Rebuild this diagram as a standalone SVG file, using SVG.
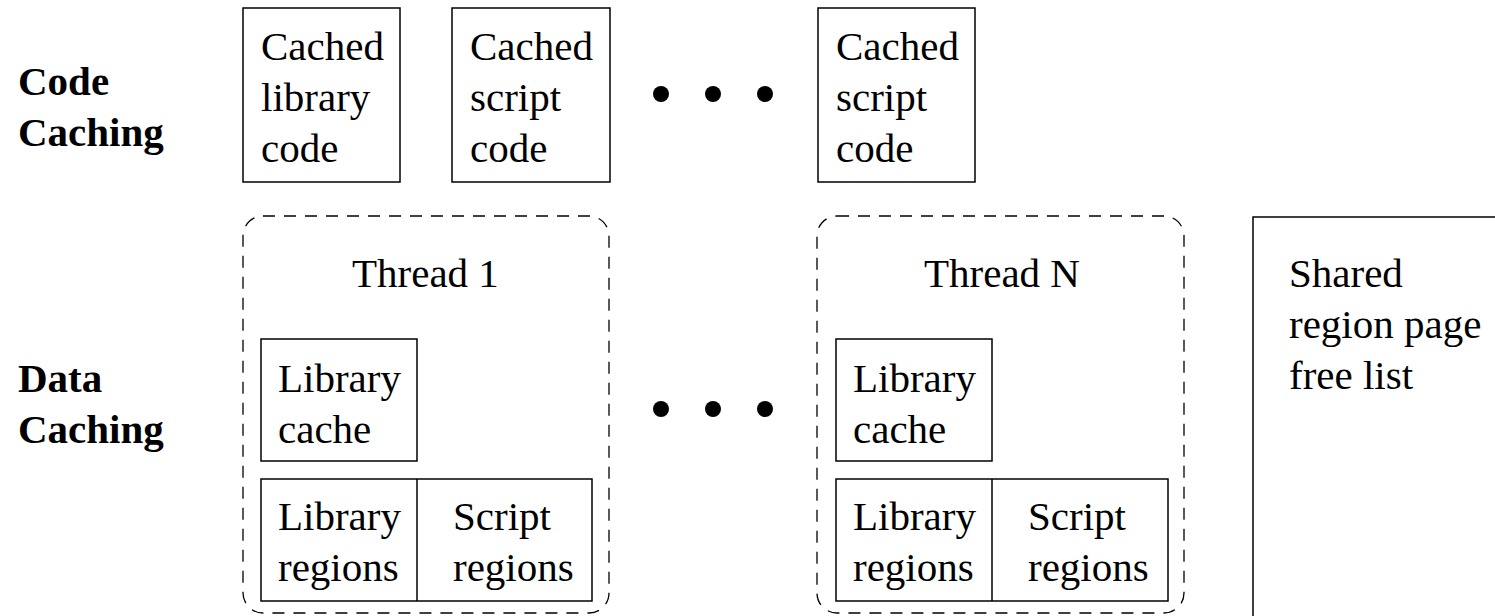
<svg xmlns="http://www.w3.org/2000/svg" width="1495" height="616" viewBox="0 0 1495 616">
  <style>
    text { font-family: "Liberation Serif", "Times New Roman", serif; font-size: 41px; fill: #000; }
    .lbl { font-weight: bold; }
    .box { fill: #fff; stroke: #000; stroke-width: 1.5; }
    .thread { fill: none; stroke: #000; stroke-width: 1.3; stroke-dasharray: 12 9; }
    .dot { fill: #000; }
  </style>
  <rect width="1495" height="616" fill="#fff"/>

  <!-- row labels -->
  <g id="label-code">
    <text class="lbl" x="18" y="95">Code</text>
    <text class="lbl" x="18" y="146">Caching</text>
  </g>
  <g id="label-data">
    <text class="lbl" x="18" y="392">Data</text>
    <text class="lbl" x="18" y="443">Caching</text>
  </g>

  <!-- code caching row -->
  <g id="cached-library-code">
    <rect class="box" x="243" y="8" width="157" height="174"/>
    <text x="261" y="60">Cached</text>
    <text x="261" y="111">library</text>
    <text x="261" y="162">code</text>
  </g>
  <g id="cached-script-code-1">
    <rect class="box" x="452" y="8" width="158" height="174"/>
    <text x="470" y="60">Cached</text>
    <text x="470" y="111">script</text>
    <text x="470" y="162">code</text>
  </g>
  <g id="cached-script-code-n">
    <rect class="box" x="818" y="8" width="157" height="174"/>
    <text x="836" y="60">Cached</text>
    <text x="836" y="111">script</text>
    <text x="836" y="162">code</text>
  </g>
  <g id="ellipsis-code">
    <circle class="dot" cx="661" cy="94" r="8"/>
    <circle class="dot" cx="713" cy="94" r="8"/>
    <circle class="dot" cx="765" cy="94" r="8"/>
  </g>

  <!-- data caching row: thread 1 -->
  <g id="thread-1">
    <rect class="thread" x="243" y="216" width="366" height="397" rx="20" ry="20"/>
    <text x="352" y="287">Thread 1</text>
    <g id="thread-1-library-cache">
      <rect class="box" x="261" y="339" width="156" height="122"/>
      <text x="278" y="392">Library</text>
      <text x="278" y="443">cache</text>
    </g>
    <g id="thread-1-regions">
      <rect class="box" x="261" y="479" width="331" height="122"/>
      <line x1="417" y1="479" x2="417" y2="601" stroke="#000" stroke-width="1.5"/>
      <text x="278" y="530">Library</text>
      <text x="278" y="581">regions</text>
      <text x="453" y="530">Script</text>
      <text x="453" y="581">regions</text>
    </g>
  </g>

  <g id="ellipsis-data">
    <circle class="dot" cx="661" cy="409" r="8"/>
    <circle class="dot" cx="713" cy="409" r="8"/>
    <circle class="dot" cx="765" cy="409" r="8"/>
  </g>

  <!-- data caching row: thread N -->
  <g id="thread-n">
    <rect class="thread" x="817" y="216" width="367" height="397" rx="20" ry="20"/>
    <text x="924" y="287">Thread N</text>
    <g id="thread-n-library-cache">
      <rect class="box" x="836" y="339" width="156" height="122"/>
      <text x="853" y="392">Library</text>
      <text x="853" y="443">cache</text>
    </g>
    <g id="thread-n-regions">
      <rect class="box" x="836" y="479" width="332" height="122"/>
      <line x1="992" y1="479" x2="992" y2="601" stroke="#000" stroke-width="1.5"/>
      <text x="853" y="530">Library</text>
      <text x="853" y="581">regions</text>
      <text x="1028" y="530">Script</text>
      <text x="1028" y="581">regions</text>
    </g>
  </g>

  <!-- shared free list, running off the right and bottom edges -->
  <g id="shared-free-list">
    <rect class="box" x="1253" y="217" width="300" height="450"/>
    <text x="1289" y="287">Shared</text>
    <text x="1289" y="338">region page</text>
    <text x="1289" y="389">free list</text>
  </g>

  <g id="connectors"/>
</svg>
